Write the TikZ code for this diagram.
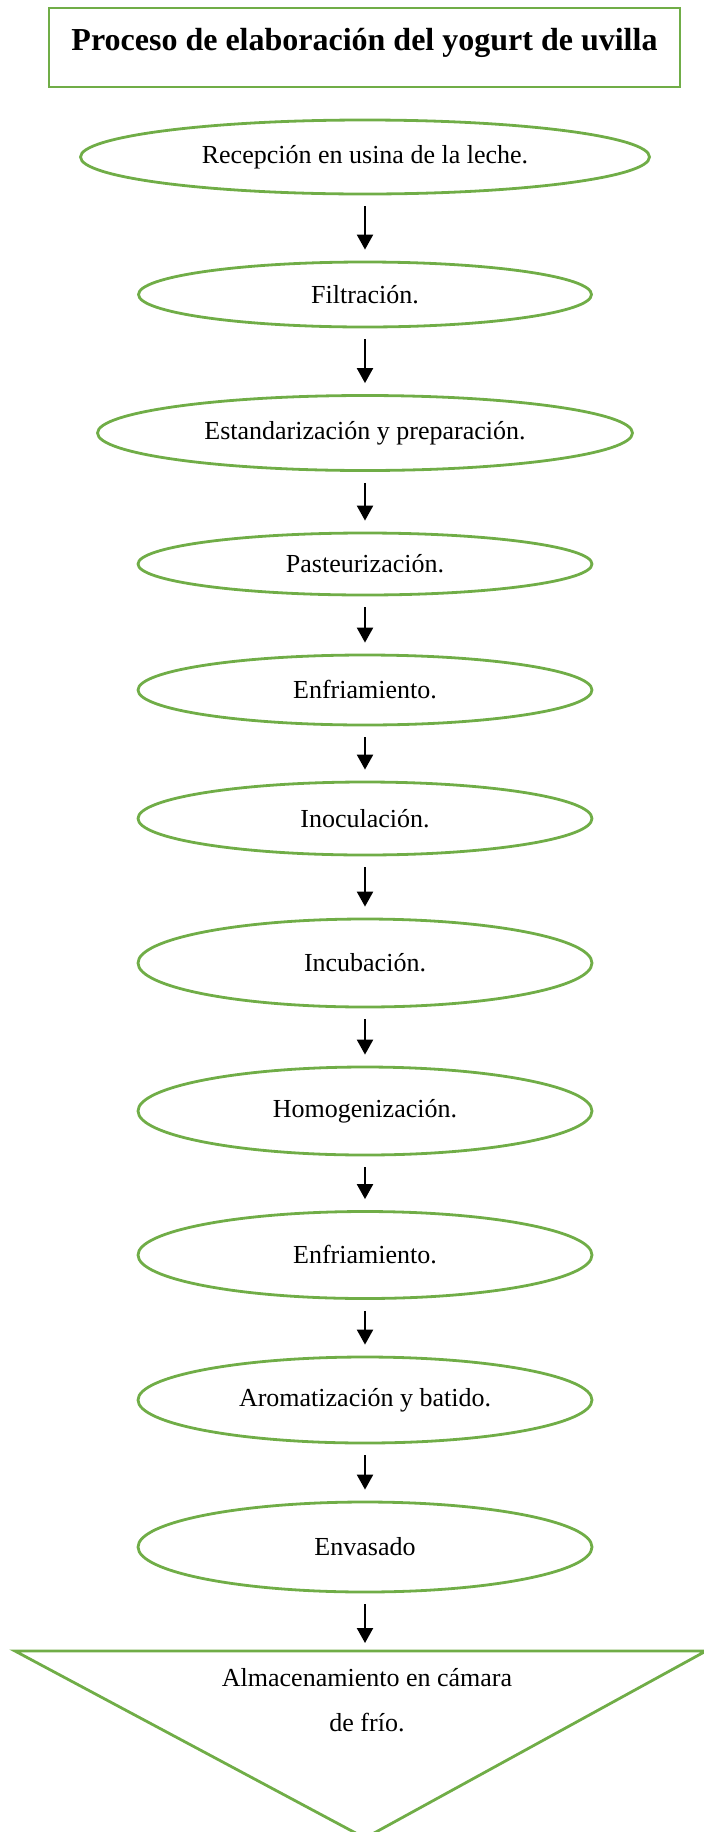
\documentclass[tikz,border=0pt]{standalone}
\usepackage{fontspec}
\setmainfont{Liberation Serif}
\usepackage{tikz}
\usetikzlibrary{arrows.meta,shapes.geometric}
\definecolor{verde}{HTML}{70AD47}
\tikzset{
  titulo/.style={draw=verde,line width=2.8pt,inner xsep=4pt,inner ysep=19pt,text height=23pt,text depth=18pt,minimum width=631pt,font=\fontsize{32}{38}\selectfont\bfseries},
  etapa/.style={ellipse,draw=verde,line width=2.8pt,inner sep=0pt,font=\fontsize{26}{30}\selectfont},
  corta/.style={etapa,minimum width=454pt},
  flecha/.style={-{Triangle[width=16pt,length=15pt]},line width=2.2pt,shorten <=11pt,shorten >=11pt},
}

\begin{document}
\begin{tikzpicture}[x=1pt,y=-1pt]
  \path[use as bounding box,clip] (0,0) rectangle (704,1832);
  % titulo
  \node[titulo] (tit) at (364.5,47.5) {Proceso de elaboración del yogurt de uvilla};
  % etapas
  \node[etapa,minimum width=569pt,minimum height=74pt] (recep) at (365,157) {Recepción en usina de la leche.};
  \node[etapa,minimum width=453pt,minimum height=65pt] (filtr) at (365,294.5) {Filtración.};
  \node[etapa,minimum width=535pt,minimum height=75pt] (estand) at (365,433) {Estandarización y preparación.};
  \node[corta,minimum height=62pt] (paste) at (365,564) {Pasteurización.};
  \node[corta,minimum height=70pt] (enfr1) at (365,690) {Enfriamiento.};
  \node[corta,minimum height=73pt] (inoc) at (365,818.5) {Inoculación.};
  \node[corta,minimum height=88pt] (incub) at (365,963) {Incubación.};
  \node[corta,minimum height=88pt] (homog) at (365,1111) {Homogenización.};
  \node[corta,minimum height=87pt] (enfr2) at (365,1255) {Enfriamiento.};
  \node[corta,minimum height=86pt] (arom) at (365,1400) {Aromatización y batido.};
  \node[corta,minimum height=90pt] (envas) at (365,1547) {Envasado};
  % almacenamiento (triangulo)
  \draw[verde,line width=2.8pt] (15,1651) -- (706,1651) -- (365,1838) -- cycle;
  \coordinate (alm) at (365,1651);
  \node[align=center,font=\fontsize{26}{45}\selectfont] (almtxt) at (367,1700) {Almacenamiento en cámara\\de frío.};
  % flechas
  \draw[flecha] (recep) -- (filtr);
  \draw[flecha] (filtr) -- (estand);
  \draw[flecha] (estand) -- (paste);
  \draw[flecha] (paste) -- (enfr1);
  \draw[flecha] (enfr1) -- (inoc);
  \draw[flecha] (inoc) -- (incub);
  \draw[flecha] (incub) -- (homog);
  \draw[flecha] (homog) -- (enfr2);
  \draw[flecha] (enfr2) -- (arom);
  \draw[flecha] (arom) -- (envas);
  \draw[flecha,shorten >=8pt] (envas) -- (alm);
\end{tikzpicture}
\end{document}
